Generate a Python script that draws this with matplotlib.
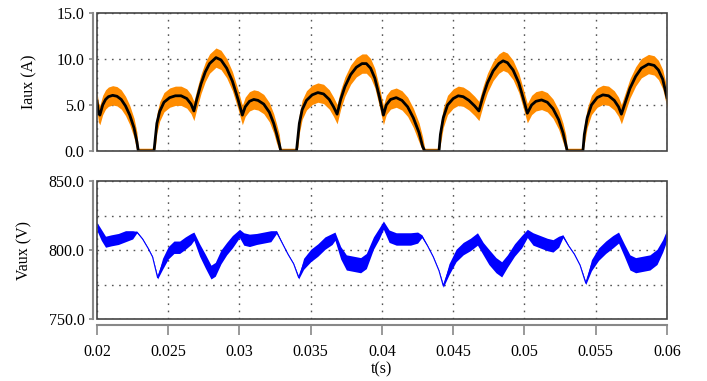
import numpy as np
import matplotlib
matplotlib.use('Agg')
import matplotlib.pyplot as plt
from matplotlib.patches import Rectangle

plt.rcParams['font.family'] = ['Liberation Serif', 'DejaVu Serif']
fs = 11.5

# Iaux: average current (black) and switching ripple band (orange)
t_i = [0.0200, 0.0201, 0.0202, 0.0204, 0.0206, 0.0208, 0.0211, 0.0214, 0.0217, 0.0220, 0.0223, 0.0226, 0.0228, 0.0229,
       0.0240, 0.0241, 0.0242, 0.0244, 0.0247, 0.0251, 0.0255, 0.0259, 0.0263, 0.0266, 0.0268,
       0.0270, 0.0273, 0.0276, 0.0279, 0.02835, 0.0287, 0.0291, 0.0295, 0.0299, 0.0302,
       0.0304, 0.0307, 0.0310, 0.0313, 0.0317, 0.0321, 0.0324, 0.0326, 0.0328, 0.0329,
       0.0340, 0.0341, 0.0342, 0.0344, 0.0347, 0.0351, 0.0355, 0.0359, 0.0363, 0.0366, 0.03685,
       0.0371, 0.0374, 0.0378, 0.0382, 0.0386, 0.0389, 0.0392, 0.0395, 0.0398, 0.0401,
       0.0403, 0.0406, 0.0410, 0.0414, 0.0418, 0.0422, 0.0426, 0.04285, 0.0430,
       0.0440, 0.0441, 0.0443, 0.0446, 0.0450, 0.04535, 0.0457, 0.0461, 0.0465, 0.0468,
       0.0471, 0.0474, 0.0478, 0.0482, 0.0485, 0.0488, 0.0492, 0.0496, 0.0499, 0.0502,
       0.0505, 0.0508, 0.0512, 0.0516, 0.0520, 0.0524, 0.0527, 0.0529, 0.0530,
       0.0541, 0.0542, 0.0544, 0.0547, 0.0551, 0.0555, 0.0559, 0.0563, 0.0566, 0.0568,
       0.0571, 0.0574, 0.0578, 0.0582, 0.0587, 0.0591, 0.0594, 0.0597, 0.0600]
i_avg = [5.4, 4.2, 3.9, 5.0, 5.6, 5.9, 6.05, 5.95, 5.6, 4.9, 3.9, 2.5, 1.0, 0.0,
         0.0, 1.5, 3.0, 4.3, 5.3, 5.8, 6.0, 6.0, 5.7, 5.1, 4.35,
         5.6, 7.3, 8.6, 9.5, 10.15, 9.9, 9.0, 7.6, 5.6, 3.9,
         4.8, 5.4, 5.6, 5.5, 5.1, 4.2, 3.0, 1.9, 0.7, 0.0,
         0.0, 1.5, 3.0, 4.5, 5.5, 6.1, 6.35, 6.2, 5.6, 4.8, 4.0,
         5.6, 7.0, 8.3, 9.1, 9.5, 9.5, 9.0, 7.9, 6.0, 3.9,
         5.0, 5.6, 5.8, 5.5, 4.8, 3.6, 2.0, 0.5, 0.0,
         0.0, 1.8, 3.6, 5.0, 5.7, 6.0, 5.9, 5.5, 4.9, 4.35,
         6.0, 7.4, 8.7, 9.5, 9.8, 9.6, 8.8, 7.4, 5.8, 4.1,
         5.0, 5.4, 5.55, 5.3, 4.6, 3.4, 2.0, 0.7, 0.0,
         0.0, 1.8, 3.6, 5.0, 5.8, 6.1, 6.0, 5.5, 4.8, 4.0,
         5.4, 6.8, 8.1, 9.0, 9.45, 9.3, 8.8, 7.8, 5.8]
i_ripple_on = 1.05
i_ripple_off = 0.3

# Vaux: mid value and ripple half-width
t_v = [0.0200, 0.0203, 0.0206, 0.0210, 0.0215, 0.0220, 0.0225, 0.0228, 0.0232, 0.0236, 0.0239, 0.02425,
       0.0246, 0.0250, 0.0254, 0.0258, 0.0262, 0.0266, 0.0268, 0.0272, 0.0276, 0.0280, 0.0283,
       0.0287, 0.0291, 0.0295, 0.0300, 0.0303, 0.0307, 0.0312, 0.0317, 0.0322, 0.0326,
       0.0330, 0.0334, 0.0338, 0.03415, 0.0345, 0.0350, 0.0355, 0.0360, 0.0365, 0.0367,
       0.0371, 0.0375, 0.0380, 0.0385, 0.0389, 0.0394, 0.0398, 0.0401, 0.0405, 0.0410,
       0.0415, 0.0420, 0.0425, 0.0428, 0.0432, 0.0436, 0.0440, 0.0443, 0.0447, 0.0452,
       0.0457, 0.0462, 0.0467, 0.0471, 0.0475, 0.0480, 0.0484, 0.0488, 0.0493, 0.0498,
       0.0502, 0.0506, 0.0511, 0.0516, 0.0520, 0.0524, 0.0527, 0.0531, 0.0535, 0.0539,
       0.0543, 0.0547, 0.0552, 0.0557, 0.0562, 0.0566, 0.0570, 0.0574, 0.0578, 0.0583,
       0.0588, 0.0593, 0.0597, 0.0600]
v_mid = [817, 811, 806, 807, 808, 810, 811, 813, 808, 801, 795, 780,
         790, 798, 802, 802, 805, 808, 810, 800, 792, 784, 786,
         795, 801, 806, 812, 808, 807, 808, 809, 810, 813,
         805, 797, 790, 780, 790, 796, 800, 805, 808, 810,
         798, 791, 790, 789, 792, 805, 812, 818, 810, 808,
         808, 808, 809, 810, 803, 795, 785, 774, 786, 796,
         801, 804, 808, 801, 795, 789, 786, 792, 800, 806,
         812, 808, 806, 804, 803, 806, 810, 803, 797, 789,
         776, 789, 797, 802, 806, 809, 800, 791, 789, 790,
         791, 795, 803, 811]
v_rip = [3, 4, 4, 4, 4, 4, 3, 0.5, 0.3, 0.3, 0.3, 1,
         4, 4.5, 4.5, 4.5, 4.5, 4, 3, 4.5, 5, 5, 5,
         5, 4.5, 4.5, 3, 4.5, 4.5, 4, 4, 4, 1,
         0.3, 0.3, 0.3, 1, 4, 4.5, 4.5, 4.5, 4, 3,
         4.5, 5.5, 5.5, 5.5, 5.5, 4.5, 4, 3, 4.5, 4.5,
         4.5, 4.5, 4, 1, 0.3, 0.3, 0.3, 1, 4, 4.5,
         4.5, 4.5, 4.5, 4.5, 5.5, 5.5, 5.5, 4.5, 4.5, 4.5,
         3, 4.5, 4.5, 4.5, 4.5, 4, 1, 0.3, 0.3, 0.3,
         1, 4, 4.5, 4.5, 4.5, 4, 4.5, 5.5, 5.5, 5.5,
         5.5, 5.5, 4.5, 4]

x_ticks = [0.02, 0.025, 0.03, 0.035, 0.04, 0.045, 0.05, 0.055, 0.06]
x_labels = ['0.02', '0.025', '0.03', '0.035', '0.04', '0.045', '0.05', '0.055', '0.06']

t_i = np.array(t_i)
i_avg = np.array(i_avg)
rip = np.where(i_avg > 0, i_ripple_on, i_ripple_off)
i_hi = i_avg + rip
i_lo = np.clip(i_avg - rip, 0, None)

t_v = np.array(t_v)
v_mid = np.array(v_mid)
v_rip = np.array(v_rip)

fig = plt.figure(figsize=(7.07, 3.81), dpi=100)
ax1 = fig.add_axes([0.1372, 0.6037, 0.8062, 0.3622])
ax2 = fig.add_axes([0.1372, 0.1627, 0.8062, 0.3622])

frame_c = '#444444'
axis_c = '#888888'
grid_kw = dict(color='#555555', linestyle=(0, (1.2, 4)), linewidth=1.0)

# top plot
ax1.fill_between(t_i, i_lo, i_hi, color='#ff8c00', lw=0, zorder=2)
ax1.plot(t_i, i_avg, color='black', lw=2, zorder=3)
ax1.set_xlim(0.02, 0.06)
ax1.set_ylim(0, 15)
ax1.set_yticks([0, 5, 10, 15])
ax1.set_yticklabels(['0.0', '5.0', '10.0', '15.0'])
ax1.set_xticks(x_ticks)
ax1.tick_params(axis='x', bottom=False, labelbottom=False)
ax1.set_ylabel('Iaux (A)', fontsize=fs, labelpad=14)

# bottom plot
ax2.fill_between(t_v, v_mid - v_rip, v_mid + v_rip, color='#0000ff', lw=0, zorder=2)
ax2.plot(t_v, v_mid, color='#0000ff', lw=0.8, zorder=3)
ax2.set_xlim(0.02, 0.06)
ax2.set_ylim(750, 850)
ax2.set_yticks([750, 800, 850])
ax2.set_yticklabels(['750.0', '800.0', '850.0'])
ax2.set_yticks([775, 825], minor=True)
ax2.set_xticks(x_ticks)
ax2.set_xticklabels(x_labels)
ax2.set_ylabel('Vaux (V)', fontsize=fs, labelpad=12)
ax2.set_xlabel('t(s)', fontsize=fs, labelpad=1)
ax2.tick_params(axis='y', which='minor', left=False)

for ax in (ax1, ax2):
    ax.grid(True, which='both', **grid_kw)
    ax.set_axisbelow(True)
    for s in ('top', 'right', 'bottom'):
        ax.spines[s].set_visible(False)
    ax.spines['left'].set_position(('outward', 3))
    ax.spines['left'].set_color(axis_c)
    ax.spines['left'].set_linewidth(1.5)
    ax.tick_params(axis='y', which='major', direction='out', length=3, width=1.2,
                   color=axis_c, labelsize=fs, pad=3)
    ax.add_patch(Rectangle((0, 0), 1, 1, transform=ax.transAxes, fill=False,
                           edgecolor=frame_c, lw=1.2, zorder=5, clip_on=False))

ax2.spines['bottom'].set_visible(True)
ax2.spines['bottom'].set_position(('outward', 4))
ax2.spines['bottom'].set_color(axis_c)
ax2.spines['bottom'].set_linewidth(1.5)
ax2.tick_params(axis='x', direction='out', length=7, width=1.2, color=axis_c,
                labelsize=fs, pad=7)
ax2.tick_params(axis='x', which='minor', bottom=False)

fig.savefig('out.png', dpi=100)
